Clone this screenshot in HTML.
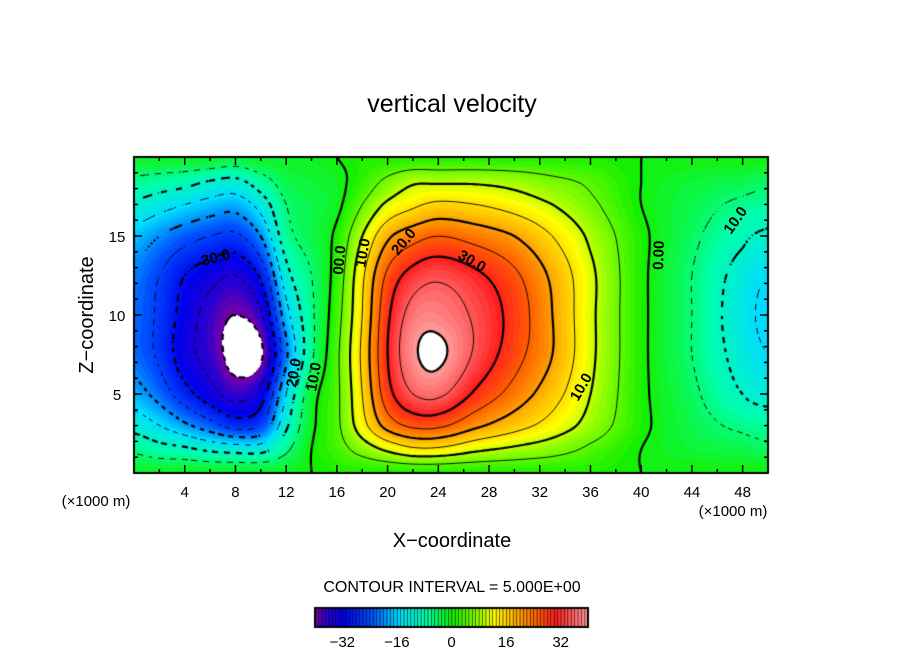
<!DOCTYPE html>
<html><head><meta charset="utf-8"><style>
body{margin:0;background:#fff;width:904px;height:654px;overflow:hidden;position:relative;font-family:"Liberation Sans",sans-serif}
canvas{position:absolute;left:0;top:0}
svg{position:absolute;left:0;top:0}
</style></head><body>
<canvas id="c" width="904" height="654"></canvas>
<svg id="s" width="904" height="654">
<text x="452" y="112" font-size="25" text-anchor="middle">vertical velocity</text>
<text x="452" y="547" font-size="20" text-anchor="middle">X−coordinate</text>
<text transform="translate(93,315) rotate(-90)" font-size="20" text-anchor="middle">Z−coordinate</text>
<text x="96" y="506" font-size="15" text-anchor="middle">(×1000 m)</text>
<text x="733" y="516" font-size="15" text-anchor="middle">(×1000 m)</text>
<text x="452" y="592" font-size="16" text-anchor="middle">CONTOUR INTERVAL = 5.000E+00</text>
<g id="ax"></g>
<g font-size="15" font-weight="bold">
<text x="203" y="266" transform="rotate(-15 203 266)">30.0</text>
<text x="296" y="388" transform="rotate(-80 296 388)">20.0</text>
<text x="316" y="392" transform="rotate(-80 316 392)">10.0</text>
<text x="343" y="275" transform="rotate(-85 343 275)">00.0</text>
<text x="365" y="268" transform="rotate(-80 365 268)">10.0</text>
<text x="398" y="256" transform="rotate(-50 398 256)">20.0</text>
<text x="457" y="258" transform="rotate(30 457 258)">30.0</text>
<text x="578" y="402" transform="rotate(-60 578 402)">10.0</text>
<text x="663" y="270" transform="rotate(-88 663 270)">0.00</text>
<text x="731" y="235" transform="rotate(-55 731 235)">10.0</text>
</g>
</svg>
<script>
const xCoords=[0,2,4,6,8,10,12,14,16,18,20,22,24,27,30,33,36,40,44,48,50];
const zCoords=[0,1.5,3,5,7.5,10,12.5,15,17,18.5,20];
const w00=[-1,-1,-1,-1,-1,-1,-1,0,1,1,1,1,1,1,1,1,1,0,0,0,0];
const w01=[-6,-8,-9,-11,-12,-12,-6,0,3,7,11,14,14,11,9,7,4,0,-2,-3,-4];
const w02=[-12,-15,-19,-23,-27,-25,-11,-1,4,13,22,26,26,21,17,13,8,1,-3,-6,-7];
const w03=[-18,-22,-28,-33,-37,-33,-15,-2,4,15,28,35,36,29,23,17,10,1,-4,-10,-12];
const w04=[-22,-26,-33,-37,-42,-41,-21,-6,4,16,30,39,41,34,27,20,11,1,-5,-12,-15];
const w05=[-22,-26,-32,-37,-40,-36,-17,-6,3,15,29,37,38,34,28,20,11,1,-5,-13,-16];
const w06=[-21,-25,-30,-33,-35,-29,-12,-5,2,14,26,32,34,31,26,19,11,1,-5,-12,-15];
const w07=[-17,-20,-23,-25,-26,-20,-7,-3,1,10,19,23,25,23,20,15,9,1,-4,-9,-11];
const w08=[-11,-13,-15,-17,-18,-13,-5,-3,-1,5,11,14,16,15,13,10,6,0,-3,-6,-7];
const w09=[-6,-7,-8,-10,-11,-7,-3,-2,-1,2,6,9,9,9,8,6,4,0,-2,-3,-4];
const w10=[-1,-1,-1,-1,-2,-1,-1,-1,0,1,1,1,1,1,1,1,1,0,0,0,0];
const field=[w00,w01,w02,w03,w04,w05,w06,w07,w08,w09,w10];
const xTicks=[4,8,12,16,20,24,28,32,36,40,44,48];
const zTicks=[5,10,15];
const cbTicks=[-32,-16,0,16,32];

const PX0=134,PX1=768,PY0=157,PY1=473;
const sx=x=>PX0+x/50*(PX1-PX0);
const sz=z=>PY1-z/20*(PY1-PY0);
const ix=p=>(p-PX0)/(PX1-PX0)*50;
const iz=p=>(PY1-p)/(PY1-PY0)*20;
const NR=zCoords.length-1,NC=xCoords.length-1;
function locate(arr,v){let i=0;while(i<arr.length-2&&v>arr[i+1])i++;return [i,Math.max(0,Math.min(1,(v-arr[i])/(arr[i+1]-arr[i])))];}
function cr(p0,p1,p2,p3,t){let v=0.5*((2*p1)+(-p0+p2)*t+(2*p0-5*p1+4*p2-p3)*t*t+(-p0+3*p1-3*p2+p3)*t*t*t);
  const lo=Math.min(p1,p2),hi=Math.max(p1,p2),m=(hi-lo)*0.3+1;return Math.max(lo-m,Math.min(hi+m,v));}
function val(x,z){
  const [i,t]=locate(xCoords,x),[j,u]=locate(zCoords,z);
  const g=(r,c)=>field[Math.max(0,Math.min(NR,r))][Math.max(0,Math.min(NC,c))];
  const rows=[];
  for(let r=j-1;r<=j+2;r++)rows.push(cr(g(r,i-1),g(r,i),g(r,i+1),g(r,i+2),t));
  return cr(rows[0],rows[1],rows[2],rows[3],u);
}
const stops=[[-40,[110,0,170]],[-37,[40,0,210]],[-32,[0,0,235]],[-24,[0,80,255]],[-16,[0,220,255]],[-8,[0,255,170]],[0,[20,240,0]],[8,[160,255,0]],[12,[255,255,0]],[18,[255,180,0]],[24,[255,100,0]],[30,[255,30,30]],[36,[255,110,110]],[40,[255,160,160]]];
function col(v){
  if(v>40||v<-40)return [255,255,255];
  v=Math.floor(v);
  for(let k=0;k<stops.length-1;k++){const a=stops[k],b=stops[k+1];if(v<=b[0]){const t=(v-a[0])/(b[0]-a[0]);return a[1].map((c,q)=>Math.round(c+(b[1][q]-c)*t));}}
  return stops[stops.length-1][1];
}
const cv=document.getElementById('c'),ctx=cv.getContext('2d');
const img=ctx.createImageData(PX1-PX0,PY1-PY0);
for(let py=0;py<PY1-PY0;py++)for(let px=0;px<PX1-PX0;px++){
  const c=col(val(ix(PX0+px+0.5),iz(PY0+py+0.5)));const o=(py*(PX1-PX0)+px)*4;
  img.data[o]=c[0];img.data[o+1]=c[1];img.data[o+2]=c[2];img.data[o+3]=255;}
ctx.putImageData(img,PX0,PY0);
const st=3,nx=Math.ceil((PX1-PX0)/st),nz=Math.ceil((PY1-PY0)/st);
const G=[];for(let b=0;b<=nz;b++){G.push([]);for(let a=0;a<=nx;a++)G[b].push(val(ix(PX0+a*st),iz(PY0+b*st)));}
ctx.save();ctx.beginPath();ctx.rect(PX0,PY0,PX1-PX0,PY1-PY0);ctx.clip();
for(let L=-40;L<=40;L+=5){
  ctx.lineWidth=(L%10===0)?2.2:0.9;ctx.strokeStyle='#000';ctx.beginPath();
  for(let b=0;b<nz;b++)for(let a=0;a<nx;a++){
    const v=[G[b][a],G[b][a+1],G[b+1][a+1],G[b+1][a]];
    const P=[[0,0],[1,0],[1,1],[0,1]];const pts=[];
    for(let e=0;e<4;e++){const f=(e+1)%4;if((v[e]>=L)!==(v[f]>=L)){const t=(L-v[e])/(v[f]-v[e]);pts.push([PX0+(a+P[e][0]+(P[f][0]-P[e][0])*t)*st,PY0+(b+P[e][1]+(P[f][1]-P[e][1])*t)*st]);}}
    if(L<0&&((a+b)%4>=2))continue;
    for(let k=0;k+1<pts.length;k+=2){ctx.moveTo(pts[k][0],pts[k][1]);ctx.lineTo(pts[k+1][0],pts[k+1][1]);}
  }
  ctx.stroke();
}
ctx.restore();
ctx.lineWidth=2;ctx.strokeStyle='#000';ctx.strokeRect(PX0,PY0,PX1-PX0,PY1-PY0);
const CB0=315,CB1=588,CBY=608,CBH=19;
const cbx=v=>CB0+(v+40)/80*(CB1-CB0);
for(let v=-40;v<40;v++){const c=col(v+0.5);ctx.fillStyle=`rgb(${c})`;ctx.fillRect(cbx(v),CBY,(CB1-CB0)/80+0.5,CBH);
  ctx.fillStyle='#000';ctx.fillRect(cbx(v),CBY,0.6,CBH);}
ctx.lineWidth=2;ctx.strokeRect(CB0,CBY,CB1-CB0,CBH);
const ns='http://www.w3.org/2000/svg',ax=document.getElementById('ax');
function ln(x1,y1,x2,y2,n){const e=document.createElementNS(ns,'line');e.setAttribute('x1',x1);e.setAttribute('y1',y1);e.setAttribute('x2',x2);e.setAttribute('y2',y2);e.setAttribute('stroke','#000');e.setAttribute('stroke-width','1.5');


ax.appendChild(e);}
function tx(x,y,s,n){const e=document.createElementNS(ns,'text');e.setAttribute('x',x);e.setAttribute('y',y);e.setAttribute('font-size','15');e.setAttribute('text-anchor','middle');e.textContent=s;


ax.appendChild(e);}
for(let x=2;x<50;x+=2){const l=x%4===0?8:4;ln(sx(x),PY1,sx(x),PY1-l,'x-tick');ln(sx(x),PY0,sx(x),PY0+l,'x-tick-top');}
for(let z=1;z<20;z++){const l=z%5===0?8:4;ln(PX0,sz(z),PX0+l,sz(z),'z-tick');ln(PX1,sz(z),PX1-l,sz(z),'z-tick-right');}
xTicks.forEach(x=>tx(sx(x),497,String(x),'x-tick-label'));
zTicks.forEach(z=>tx(PX0-17,sz(z)+6,String(z),'z-tick-label'));
cbTicks.forEach(v=>tx(cbx(v),647,String(v).replace('-','−'),'colorbar-tick-label'));
</script>
</body></html>
